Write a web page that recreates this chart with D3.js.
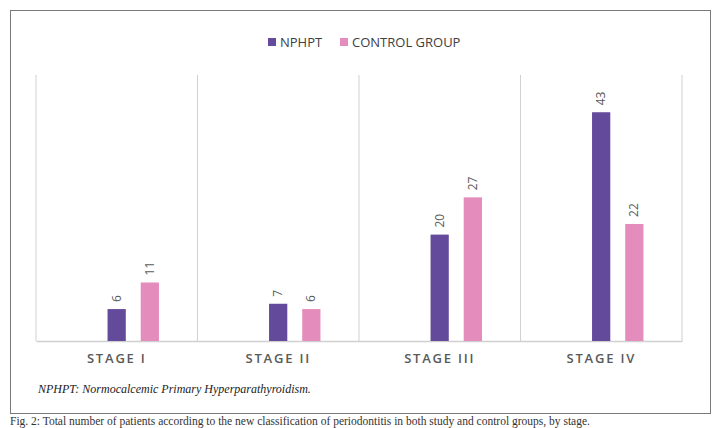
<!DOCTYPE html>
<html>
  <head>
    <meta charset="utf-8">
    <title>NPHPT vs control group by stage</title>
    <script src="https://d3js.org/d3.v7.min.js"></script>
    <style>
      body { margin: 0; background: #fff; }
    </style>
  </head>
  <body>
    <svg width="721" height="428" font-family="Open Sans, sans-serif"></svg>
    <script>
      var stages = ["STAGE I", "STAGE II", "STAGE III", "STAGE IV"];
      var series = ["NPHPT", "CONTROL GROUP"];
      var nphpt = [6, 7, 20, 43];
      var control = [11, 6, 27, 22];
      var colors = ["#644a9b", "#e48dbd"];

      var rows = stages.map(function(s, i) {
        return {stage: s, values: [nphpt[i], control[i]]};
      });

      var svg = d3.select("svg");

      // outer figure frame
      svg.append("rect")
          .attr("x", 10.5).attr("y", 10.5)
          .attr("width", 700).attr("height", 403)
          .attr("fill", "none")
          .attr("stroke", "#7a7a7a");

      var margin = {top: 75, left: 36, right: 39, bottom: 87},
          width = 721 - margin.left - margin.right,
          height = 428 - margin.top - margin.bottom;

      var g = svg.append("g")
          .attr("transform", "translate(" + margin.left + "," + margin.top + ")");

      var x0 = d3.scaleBand().domain(stages).range([0, width]);
      var slot = 33;
      var x1 = d3.scaleBand().domain(series)
          .range([x0.bandwidth() / 2 - slot / 2, x0.bandwidth() / 2 + slot * 1.5])
          .paddingInner(0.45).paddingOuter(0.22);
      var y = d3.scaleLinear().domain([0, 50]).range([height, 0]);

      // vertical separators
      g.selectAll(".sep")
          .data(d3.range(stages.length + 1))
          .enter().append("line")
          .attr("x1", function(i) { return i * x0.step(); })
          .attr("x2", function(i) { return i * x0.step(); })
          .attr("y1", 0).attr("y2", height)
          .attr("stroke", "#d0d0d0");

      var xAxis = g.append("g")
          .attr("transform", "translate(0," + height + ")")
          .call(d3.axisBottom(x0).tickSize(0).tickPadding(13));
      xAxis.select(".domain").attr("stroke", "#d0d0d0").attr("stroke-width", 1.5);
      xAxis.selectAll("text")
          .attr("font-size", 13)
          .attr("font-weight", 600)
          .attr("font-family", "Open Sans, sans-serif")
          .attr("letter-spacing", "1.8px")
          .attr("fill", "#595959");

      var groups = g.selectAll(".grp")
          .data(rows)
          .enter().append("g")
          .attr("transform", function(d) { return "translate(" + x0(d.stage) + ",0)"; });

      groups.selectAll("rect")
          .data(function(d) { return d.values.map(function(v, j) { return {key: series[j], v: v, j: j}; }); })
          .enter().append("rect")
          .attr("x", function(d) { return x1(d.key); })
          .attr("width", x1.bandwidth())
          .attr("y", function(d) { return y(d.v); })
          .attr("height", function(d) { return height - y(d.v); })
          .attr("fill", function(d) { return colors[d.j]; });

      groups.selectAll(".lbl")
          .data(function(d) { return d.values.map(function(v, j) { return {key: series[j], v: v}; }); })
          .enter().append("text")
          .attr("transform", function(d) {
            return "translate(" + (x1(d.key) + x1.bandwidth() / 2 + 4) + "," + (y(d.v) - 7) + ") rotate(-90)";
          })
          .attr("font-size", 12)
          .attr("fill", "#595959")
          .text(function(d) { return d.v; });

      // legend
      var legend = svg.append("g").attr("transform", "translate(268,42)");
      var lx = [0, 72];
      series.forEach(function(s, i) {
        legend.append("rect")
            .attr("x", lx[i]).attr("y", -4)
            .attr("width", 8).attr("height", 8)
            .attr("fill", colors[i]);
        legend.append("text")
            .attr("x", lx[i] + 12).attr("y", 5)
            .attr("font-size", 13)
            .attr("fill", "#404040")
            .text(s);
      });

      svg.append("text")
          .attr("x", 38).attr("y", 393)
          .attr("font-family", "Liberation Serif, serif")
          .attr("font-style", "italic")
          .attr("font-size", 12)
          .attr("fill", "#222")
          .text("NPHPT: Normocalcemic Primary Hyperparathyroidism.");

      svg.append("text")
          .attr("x", 10).attr("y", 425)
          .attr("font-family", "Liberation Serif, serif")
          .attr("font-size", 11.5)
          .attr("fill", "#333")
          .text("Fig. 2: Total number of patients according to the new classification of periodontitis in both study and control groups, by stage.");
    </script>
  </body>
</html>
